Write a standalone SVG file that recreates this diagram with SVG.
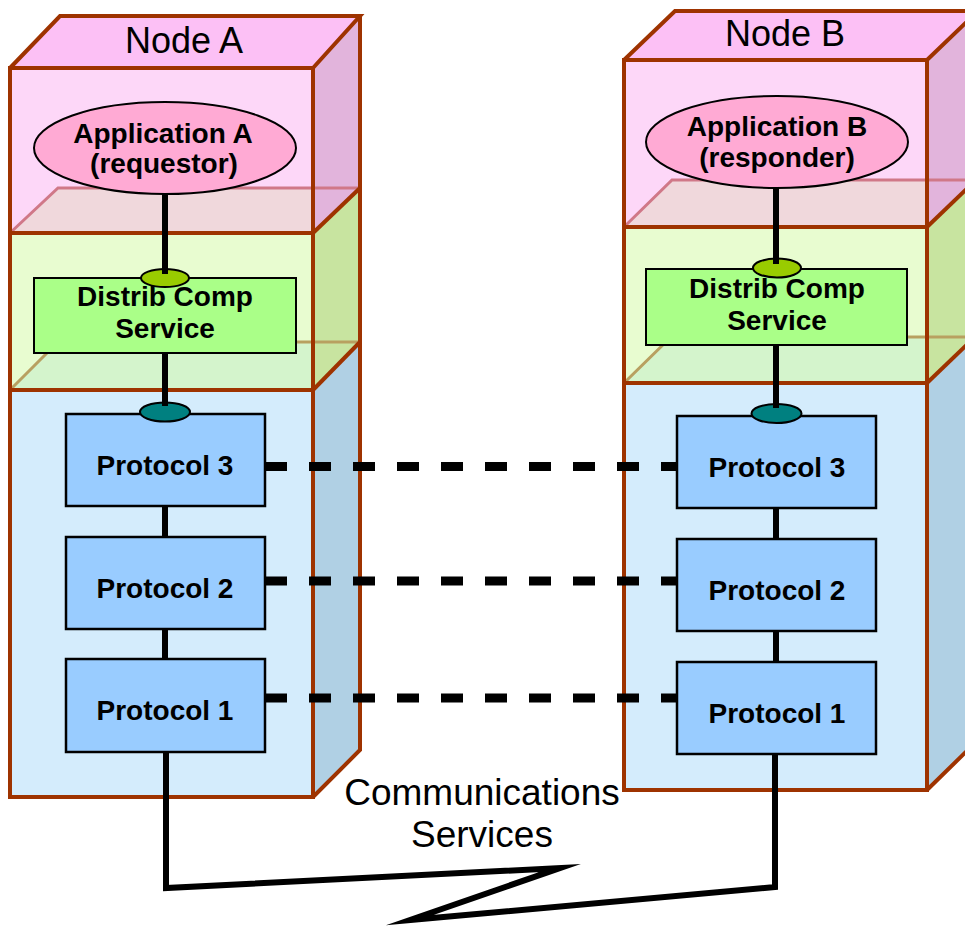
<svg xmlns="http://www.w3.org/2000/svg" width="965" height="926" viewBox="0 0 965 926">
<style>
.top{fill:#fcc0f5}
.fp{fill:#fdd7f8}
.fg{fill:#e8fcd0}
.fb{fill:#d4ecfc}
.sp{fill:#e2b4dc}
.sg{fill:#c8e4a0}
.sb{fill:#b0d0e4}
.pl1{fill:#f0d8dc}
.pl2{fill:#d4f4cc}
.pe1{fill:none;stroke:#d07888;stroke-width:3}
.pe2{fill:none;stroke:#b8a060;stroke-width:3}
.edge{fill:none;stroke:#9e3300;stroke-width:4;stroke-linejoin:miter}
.app{fill:#ffaad4;stroke:#000;stroke-width:2}
.dcs{fill:#aaff88;stroke:#000;stroke-width:2}
.port1{fill:#99cc00;stroke:#000;stroke-width:2}
.port2{fill:#008080;stroke:#000;stroke-width:2}
.proto{fill:#99ccff;stroke:#000;stroke-width:2.5}
.lbl{font-family:"Liberation Sans",Arial,sans-serif;font-weight:bold;font-size:28px;text-anchor:middle;fill:#000}
.title{font-family:"Liberation Sans",Arial,sans-serif;font-size:36px;text-anchor:middle;fill:#000}
.comm{font-family:"Liberation Sans",Arial,sans-serif;font-size:37px;text-anchor:middle;fill:#000}
.link{fill:none;stroke:#000;stroke-width:6}
.dash{fill:none;stroke:#000;stroke-width:9;stroke-dasharray:22 22}
.zig{fill:none;stroke:#000;stroke-width:6;stroke-linejoin:miter;stroke-miterlimit:12}
</style>
<rect width="965" height="926" fill="#fff"/>

<g id="nodeA">
  <polygon class="top" points="10,68 60,16 360,16 313,68"/>
  <rect class="fp" x="10" y="68" width="303" height="165"/>
  <rect class="fg" x="10" y="233" width="303" height="157"/>
  <rect class="fb" x="10" y="390" width="303" height="407"/>
  <polygon class="pl1" points="10,233 58,188 313,188 313,233"/>
  <polygon class="pl2" points="10,390 58,342 313,342 313,390"/>
  <polygon class="sp" points="313,68 360,16 360,188 313,233"/>
  <polygon class="sg" points="313,233 360,188 360,342 313,390"/>
  <polygon class="sb" points="313,390 360,342 360,750 313,797"/>
  <polyline class="pe1" points="10,233 58,188 360,188"/>
  <polyline class="pe2" points="10,390 58,342 360,342"/>
  <rect class="edge" x="10" y="68" width="303" height="729"/>
  <line class="edge" x1="10" y1="233" x2="313" y2="233"/>
  <line class="edge" x1="10" y1="390" x2="313" y2="390"/>
  <polyline class="edge" points="10,68 60,16 360,16 313,68"/>
  <polyline class="edge" points="360,16 360,750 313,797"/>
  <line class="edge" x1="313" y1="233" x2="360" y2="188"/>
  <line class="edge" x1="313" y1="390" x2="360" y2="342"/>
  <text class="title" x="184" y="53">Node A</text>
</g>

<g id="nodeB">
  <polygon class="top" points="624,60 675,11 978,11 927,60"/>
  <rect class="fp" x="624" y="60" width="303" height="167"/>
  <rect class="fg" x="624" y="227" width="303" height="156"/>
  <rect class="fb" x="624" y="383" width="303" height="407"/>
  <polygon class="pl1" points="624,227 672,180 927,180 927,227"/>
  <polygon class="pl2" points="624,383 671,337 927,337 927,383"/>
  <polygon class="sp" points="927,60 975,11 975,181 927,227"/>
  <polygon class="sg" points="927,227 975,181 975,337 927,383"/>
  <polygon class="sb" points="927,383 975,337 975,743 927,790"/>
  <polyline class="pe1" points="624,227 672,180 975,180"/>
  <polyline class="pe2" points="624,383 671,337 975,337"/>
  <rect class="edge" x="624" y="60" width="303" height="730"/>
  <line class="edge" x1="624" y1="227" x2="927" y2="227"/>
  <line class="edge" x1="624" y1="383" x2="927" y2="383"/>
  <polyline class="edge" points="624,60 675,11 978,11 927,60"/>
  <polyline class="edge" points="975,11 975,743 927,790"/>
  <line class="edge" x1="927" y1="227" x2="975" y2="181"/>
  <line class="edge" x1="927" y1="383" x2="975" y2="337"/>
  <text class="title" x="785" y="46">Node B</text>
</g>

<g id="appA">
  <ellipse class="app" cx="165" cy="148" rx="131" ry="46"/>
  <text class="lbl" x="163" y="143">Application A</text>
  <text class="lbl" x="164" y="173">(requestor)</text>
</g>
<g id="dcsA">
  <rect class="dcs" x="34" y="278" width="262" height="75"/>
  <ellipse class="port1" cx="165" cy="278" rx="24" ry="9"/>
  <text class="lbl" x="165" y="306">Distrib Comp</text>
  <text class="lbl" x="165" y="338">Service</text>
</g>
<g id="proto3A">
  <rect class="proto" x="66" y="414" width="199" height="92"/>
  <ellipse class="port2" cx="165" cy="412" rx="25" ry="9.5"/>
  <text class="lbl" x="165" y="475">Protocol 3</text>
</g>
<g id="proto2A">
  <rect class="proto" x="66" y="537" width="199" height="92"/>
  <text class="lbl" x="165" y="598">Protocol 2</text>
</g>
<g id="proto1A">
  <rect class="proto" x="66" y="659" width="199" height="93"/>
  <text class="lbl" x="165" y="720">Protocol 1</text>
</g>

<g id="appB">
  <ellipse class="app" cx="777" cy="142" rx="131" ry="46"/>
  <text class="lbl" x="777" y="136">Application B</text>
  <text class="lbl" x="777" y="167">(responder)</text>
</g>
<g id="dcsB">
  <rect class="dcs" x="646" y="269" width="261" height="76"/>
  <ellipse class="port1" cx="777" cy="268" rx="24" ry="9.5"/>
  <text class="lbl" x="777" y="298">Distrib Comp</text>
  <text class="lbl" x="777" y="330">Service</text>
</g>
<g id="proto3B">
  <rect class="proto" x="677" y="416" width="199" height="92"/>
  <ellipse class="port2" cx="776.5" cy="413.5" rx="25" ry="9.5"/>
  <text class="lbl" x="777" y="477">Protocol 3</text>
</g>
<g id="proto2B">
  <rect class="proto" x="677" y="539" width="199" height="92"/>
  <text class="lbl" x="777" y="600">Protocol 2</text>
</g>
<g id="proto1B">
  <rect class="proto" x="677" y="662" width="199" height="92"/>
  <text class="lbl" x="777" y="723">Protocol 1</text>
</g>

<g id="connectors">
  <line class="link" x1="165" y1="194" x2="165" y2="274"/>
  <line class="link" x1="165" y1="353" x2="165" y2="406"/>
  <line class="link" x1="165" y1="506" x2="165" y2="537"/>
  <line class="link" x1="165" y1="629" x2="165" y2="659"/>
  <line class="link" x1="776" y1="188" x2="776" y2="264"/>
  <line class="link" x1="776" y1="345" x2="776" y2="408"/>
  <line class="link" x1="776" y1="508" x2="776" y2="539"/>
  <line class="link" x1="776" y1="631" x2="776" y2="662"/>
  <line class="dash" x1="265" y1="466.5" x2="677" y2="466.5"/>
  <line class="dash" x1="265" y1="581" x2="677" y2="581"/>
  <line class="dash" x1="265" y1="698" x2="677" y2="698"/>
  <polyline class="zig" points="166,752 166,888 560,868 410,920 775,887 775,754"/>
  <text class="comm" x="482" y="805">Communications</text>
  <text class="comm" x="482" y="847">Services</text>
</g>
</svg>
